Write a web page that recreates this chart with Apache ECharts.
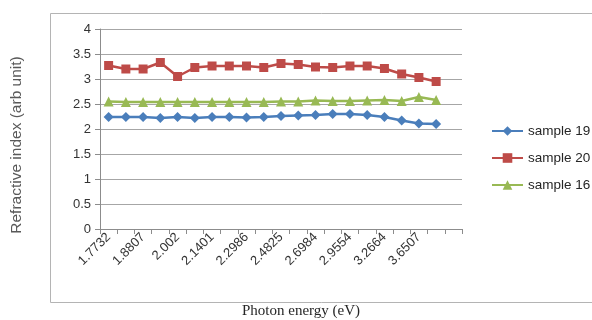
<!DOCTYPE html>
<html>
<head>
<meta charset="utf-8">
<script src="https://cdn.jsdelivr.net/npm/echarts@6/dist/echarts.min.js"></script>
<style>html,body{margin:0;padding:0;background:#fff;}#c{width:592px;height:320px;}</style>
</head>
<body>
<div id="c"></div>
<script>
// Photon energy categories (eV); last category is blank as in the reference
const energies = ['1.7732','1.8253','1.8807','1.9394','2.002','2.0687','2.1401','2.2165','2.2986','2.387','2.4825','2.5859','2.6984','2.821','2.9554','3.1031','3.2664','3.4479','3.6507','3.8789',''];
const sample19 = [2.24,2.24,2.24,2.22,2.24,2.22,2.24,2.24,2.23,2.24,2.26,2.27,2.28,2.30,2.30,2.28,2.24,2.17,2.11,2.10];
const sample20 = [3.27,3.20,3.20,3.33,3.05,3.23,3.26,3.26,3.26,3.23,3.31,3.29,3.24,3.23,3.26,3.26,3.21,3.10,3.03,2.95];
const sample16 = [2.55,2.54,2.54,2.54,2.54,2.54,2.54,2.54,2.54,2.54,2.55,2.55,2.57,2.56,2.56,2.57,2.58,2.56,2.64,2.58];
const yTicks = {min: 0, max: 4, interval: 0.5};
const xTitle = 'Photon energy (eV)';
const yTitle = 'Refractive index (arb unit)';

const chart = echarts.init(document.getElementById('c'), null, {renderer: 'canvas'});
const sans = 'Liberation Sans, Arial, sans-serif';
chart.setOption({
  animation: false,
  backgroundColor: '#fff',
  graphic: [
    {type: 'rect', silent: true, z: -10,
     shape: {x: 50.5, y: 13.5, width: 600, height: 289},
     style: {fill: 'none', stroke: '#b4b4b4', lineWidth: 1}},
    {type: 'text', silent: true, x: 17, y: 145, rotation: Math.PI / 2,
     style: {text: yTitle, font: '15.5px Liberation Sans, Arial, sans-serif', fill: '#595959',
             align: 'center', verticalAlign: 'middle'}},
    {type: 'text', silent: true, x: 301, y: 311,
     style: {text: xTitle, font: '15px Liberation Serif, Times New Roman, serif', fill: '#262626',
             align: 'center', verticalAlign: 'middle'}}
  ],
  grid: {left: 100, top: 29, width: 362, height: 200, containLabel: false},
  legend: {
    orient: 'vertical', left: 486, top: 119, itemGap: 13,
    itemWidth: 31, itemHeight: 12,
    textStyle: {fontFamily: sans, fontSize: 13.5, color: '#262626'},
    data: ['sample 19', 'sample 20', 'sample 16']
  },
  xAxis: {
    type: 'category', data: energies, boundaryGap: true,
    axisLine: {lineStyle: {color: '#8c8c8c', width: 1}},
    axisTick: {show: true, interval: 0, alignWithLabel: false, length: 5, lineStyle: {color: '#8c8c8c'}},
    axisLabel: {interval: 1, rotate: 45, fontFamily: sans, fontSize: 13, color: '#333333', margin: 6},
    splitLine: {show: false}
  },
  yAxis: {
    type: 'value', min: yTicks.min, max: yTicks.max, interval: yTicks.interval,
    axisLine: {show: true, lineStyle: {color: '#8c8c8c', width: 1}},
    axisTick: {show: true, length: 5, lineStyle: {color: '#8c8c8c'}},
    axisLabel: {fontFamily: sans, fontSize: 13, color: '#333333', margin: 9},
    splitLine: {lineStyle: {color: '#a6a6a6', width: 1}}
  },
  series: [
    {name: 'sample 19', type: 'line', data: sample19, symbol: 'diamond', symbolSize: 10,
     itemStyle: {color: '#4a7ebb'}, lineStyle: {color: '#4a7ebb', width: 2.5}},
    {name: 'sample 20', type: 'line', data: sample20, symbol: 'rect', symbolSize: 9,
     itemStyle: {color: '#be4b48'}, lineStyle: {color: '#be4b48', width: 2.5}},
    {name: 'sample 16', type: 'line', data: sample16, symbol: 'triangle', symbolSize: 10,
     itemStyle: {color: '#98b954'}, lineStyle: {color: '#98b954', width: 2.5}}
  ]
});
</script>
</body>
</html>
